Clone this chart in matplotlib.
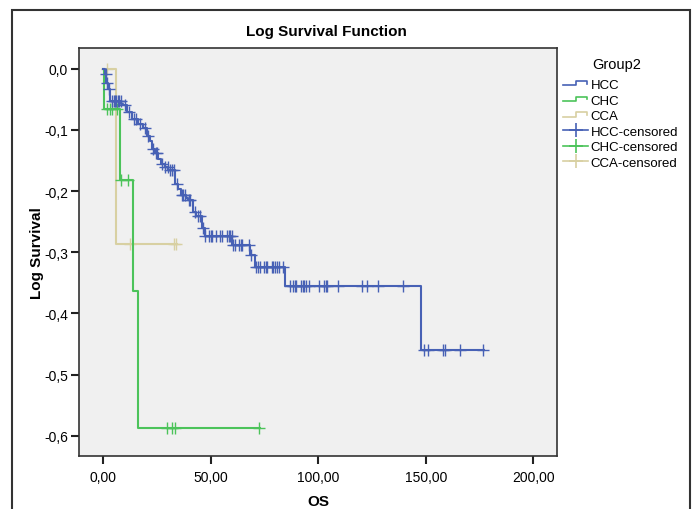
import numpy as np
import matplotlib
matplotlib.use("Agg")
import matplotlib.pyplot as plt
from matplotlib.legend_handler import HandlerBase
from matplotlib.lines import Line2D
from matplotlib.patches import Rectangle
from matplotlib.ticker import FuncFormatter

plt.rcParams['font.family'] = ['Liberation Sans', 'DejaVu Sans']

# step function data: time of drop and log survival after it
hcc_t = [0, 1.0, 1.5, 2.5, 3.0, 8.5, 9.3, 11.0, 13.3, 16.4, 18.6, 20.5, 21.9, 22.6, 24.2,
         25.7, 26.8, 28.8, 30.4, 33.5, 35.0, 36.1, 38.5, 39.5, 41.7, 43.0, 45.9, 47.4,
         60.0, 68.4, 70.7, 84.5, 148.0]
hcc_s = [0, -0.008, -0.023, -0.033, -0.052, -0.058, -0.060, -0.070, -0.082, -0.090, -0.096,
         -0.110, -0.118, -0.131, -0.137, -0.147, -0.155, -0.161, -0.166, -0.188, -0.196,
         -0.206, -0.212, -0.215, -0.234, -0.240, -0.260, -0.273, -0.288, -0.305, -0.324,
         -0.355, -0.460]
hcc_end = 177.0
hcc_cens = [1.2, 2.0, 2.8, 4.0, 5.0, 5.6, 6.2, 7.0, 7.6, 8.2, 10.0, 12.0, 14.5, 15.2, 17.0,
            19.5, 21.0, 23.0, 24.8, 25.2, 27.5, 29.0, 30.0, 31.0, 32.0, 32.8, 34.2, 36.5,
            37.2, 38.0, 40.0, 40.6, 42.5, 44.0, 45.0, 46.5,
            47.6, 49.4, 50.1, 50.6, 52.6, 54.4, 55.2, 57.5, 58.3, 59.1, 59.8,
            60.6, 61.4, 63.4, 64.0, 64.5, 67.6, 68.6,
            71.3, 72.2, 73.0, 74.6, 75.5, 76.4, 78.4, 79.2, 80.0, 80.8, 82.0, 83.6,
            86.7, 88.5, 89.2, 89.8, 92.2, 92.9, 93.5, 94.1, 95.7, 100.5, 102.5, 103.4,
            104.3, 109.4, 120.3, 122.9, 128.0, 139.4,
            149.0, 151.2, 158.1, 158.9, 166.0, 176.5]

chc_t = [0, 0.5, 7.9, 13.8, 16.0]
chc_s = [0, -0.065, -0.182, -0.364, -0.588]
chc_end = 73.0
chc_cens = [1.7, 3.3, 4.3, 6.4, 8.5, 11.8, 29.9, 31.8, 33.6, 72.7]

cca_t = [1.0, 6.0]
cca_s = [0, -0.287]
cca_end = 34.4
cca_cens = [1.7, 12.6, 33.0, 34.0]

groups = ['HCC', 'CHC', 'CCA']
colors = ['#4761b5', '#4cc35a', '#d8d0a2']

W, H = 694, 510
fig = plt.figure(figsize=(W / 100, H / 100), dpi=100)
ax = fig.add_axes([79 / W, 1 - 457 / H, (557 - 79) / W, (457 - 49) / H])
ax.set_facecolor('#f0f0f0')

data = [(hcc_t, hcc_s, hcc_end, hcc_cens),
        (chc_t, chc_s, chc_end, chc_cens),
        (cca_t, cca_s, cca_end, cca_cens)]
zs = [5, 4, 3]
for (t, s, end, cens), c, z in zip(data, colors, zs):
    tt = list(t) + [end]
    ss = list(s) + [s[-1]]
    ax.step(tt, ss, where='post', color=c, lw=1.5, zorder=z)
    idx = np.searchsorted(t, cens, side='right') - 1
    cy = np.array(s)[idx]
    ax.plot(cens, cy, ls='none', marker='+', ms=8, mew=1.0, color=c, zorder=z)

ax.set_xlim(-11.2, 211)
ax.set_ylim(-0.633, 0.034)
ax.set_xticks([0, 50, 100, 150, 200])
ax.set_yticks([0, -0.1, -0.2, -0.3, -0.4, -0.5, -0.6])
ax.xaxis.set_major_formatter(FuncFormatter(lambda v, p: f"{abs(v) if abs(v) < 1e-9 else v:.2f}".replace('.', ',')))
ax.yaxis.set_major_formatter(FuncFormatter(lambda v, p: f"{0.0 if abs(v) < 1e-9 else v:.1f}".replace('.', ',')))
ax.tick_params(direction='out', length=6, width=1.5, labelsize=10, color='#222222', pad=4)
ax.tick_params(axis='y', pad=2)
for sp in ax.spines.values():
    sp.set_linewidth(1.2)
    sp.set_color('#333333')

ax.set_xlabel('OS', fontsize=11, fontweight='bold', labelpad=7)
ax.set_ylabel('Log Survival', fontsize=11, fontweight='bold', labelpad=0)
fig.text(326 / W, 1 - 32 / H, 'Log Survival Function', ha='center', va='center',
         fontsize=11, fontweight='bold')
fig.text(617 / W, 1 - 65 / H, 'Group2', ha='center', va='center', fontsize=10.5)

# outer frame
fig.patches.append(Rectangle((12 / W, -0.05), (690 - 12) / W, 1.05 - 11 / H,
                             transform=fig.transFigure, fill=False,
                             lw=1.5, ec='#333333'))


class StepHandler(HandlerBase):
    def create_artists(self, legend, orig_handle, xd, yd, w, h, fs, trans):
        x = np.array([0, 0.5, 0.5, 0.95, 0.95]) * w - xd
        y = np.array([0.3, 0.3, 0.75, 0.75, 0.5]) * h - yd
        ln = Line2D(x, y, color=orig_handle.get_color(), lw=1.2, transform=trans)
        return [ln]


handles = []
labels = []
smap = {}
for g, c in zip(groups, colors):
    h = Line2D([], [], color=c)
    handles.append(h)
    labels.append(g)
    smap[h] = StepHandler()
for g, c in zip(groups, colors):
    handles.append(Line2D([], [], color=c, marker='+', ms=10, lw=1.2, mew=1.2))
    labels.append(g + '-censored')

leg = fig.legend(handles, labels, handler_map=smap, loc='upper left',
                 bbox_to_anchor=(563 / W, 1 - 80 / H), frameon=False,
                 fontsize=9.5, handlelength=1.9, handletextpad=0.2,
                 labelspacing=0.25, borderaxespad=0, borderpad=0)

fig.savefig('out.png', dpi=100)
